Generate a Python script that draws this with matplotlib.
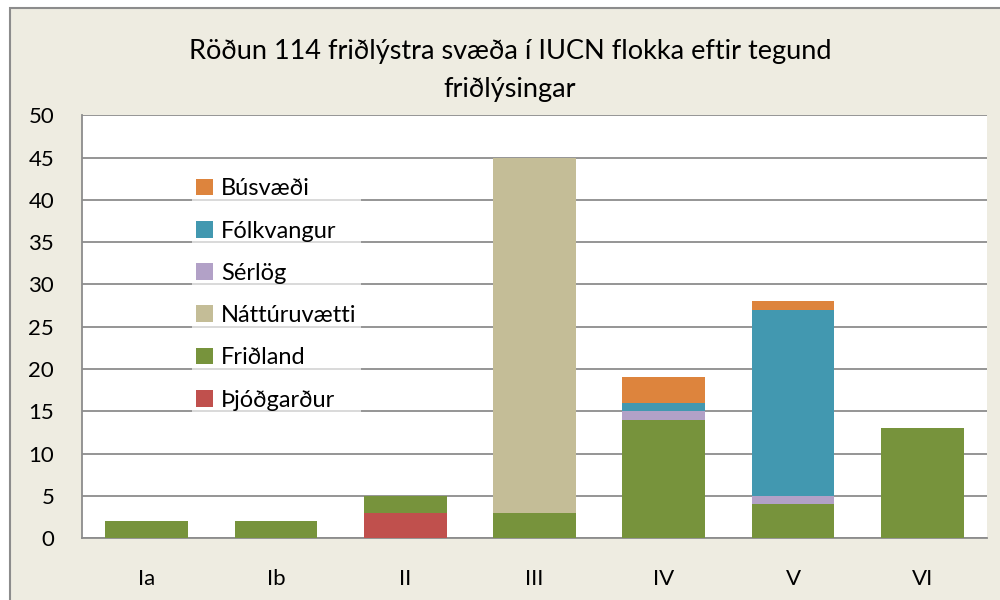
import matplotlib.pyplot as plt
import matplotlib.patches as mpatches
import numpy as np

plt.rcParams['font.family'] = ['Lato', 'DejaVu Sans']

categories = ['Ia', 'Ib', 'II', 'III', 'IV', 'V', 'VI']
series_names = ['Þjóðgarður', 'Friðland', 'Náttúruvætti', 'Sérlög', 'Fólkvangur', 'Búsvæði']
thjodgardur = [0, 0, 3, 0, 0, 0, 0]
fridland = [2, 2, 2, 3, 14, 4, 13]
natturuvaetti = [0, 0, 0, 42, 0, 0, 0]
serlog = [0, 0, 0, 0, 1, 1, 0]
folkvangur = [0, 0, 0, 0, 1, 22, 0]
busvaedi = [0, 0, 0, 0, 3, 1, 0]
colors = ['#C0504D', '#77933C', '#C4BD97', '#B2A1C7', '#4298B0', '#DD843D']

fig = plt.figure(figsize=(10, 6), dpi=100, facecolor='white')
# chart area background with grey frame
fig.patches.append(mpatches.Rectangle((0.010, -0.05), 1.2, 1.037, transform=fig.transFigure,
                                      facecolor='#EEECE1', edgecolor='#8C8C8C', linewidth=1.5, zorder=-10))

ax = fig.add_axes([0.082, 0.103, 0.905, 0.705])
ax.set_facecolor('white')

x = np.arange(len(categories))
bottom = np.zeros(len(categories))
for name, vals, c in zip(series_names, [thjodgardur, fridland, natturuvaetti, serlog, folkvangur, busvaedi], colors):
    ax.bar(x, vals, width=0.64, bottom=bottom, color=c, label=name, zorder=3)
    bottom += np.array(vals)

ax.set_xlim(-0.5, len(categories) - 0.5)
ax.set_ylim(0, 50)
ax.set_yticks(range(0, 51, 5))
ax.set_xticks(x)
ax.set_xticklabels(categories)
ax.tick_params(axis='x', length=0, pad=22, labelsize=16)
ax.tick_params(axis='y', length=0, pad=20, labelsize=16)
ax.yaxis.grid(True, color='#8C8C8C', linewidth=1.3, zorder=0)
ax.set_axisbelow(True)
for s in ['top', 'right']:
    ax.spines[s].set_visible(False)
for s in ['left', 'bottom']:
    ax.spines[s].set_color('#8C8C8C')
    ax.spines[s].set_linewidth(1.3)

handles, labels = ax.get_legend_handles_labels()
leg = ax.legend(handles[::-1], labels[::-1], loc='upper left', bbox_to_anchor=(0.108, 0.89),
                frameon=True, fontsize=17, handlelength=0.7, handleheight=0.7,
                labelspacing=0.9, handletextpad=0.35, borderpad=0.2, fancybox=False)
leg.get_frame().set_facecolor('white')
leg.get_frame().set_alpha(0.65)
leg.get_frame().set_edgecolor('none')

fig.text(0.51, 0.915, 'Röðun 114 friðlýstra svæða í IUCN flokka eftir tegund', ha='center', va='center', fontsize=19.5)
fig.text(0.51, 0.85, 'friðlýsingar', ha='center', va='center', fontsize=19.5)

fig.savefig('out.png', dpi=100, facecolor=fig.get_facecolor())
